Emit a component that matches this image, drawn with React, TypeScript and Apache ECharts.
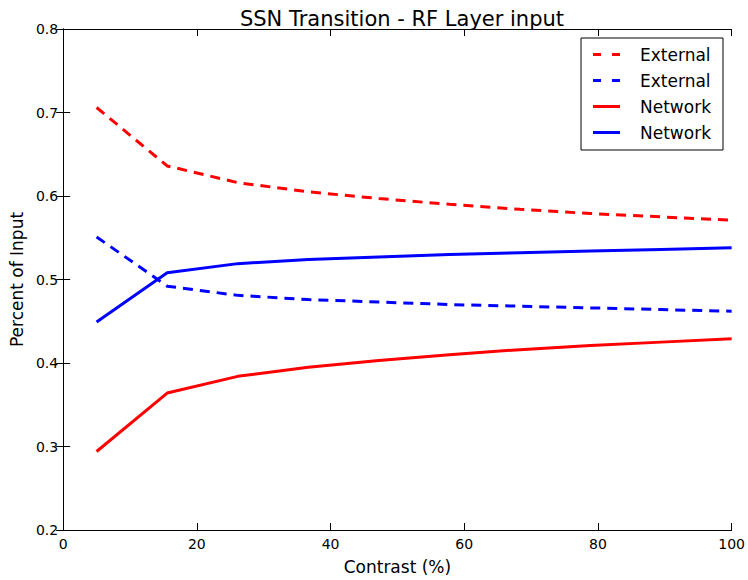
import React, { useEffect, useRef } from "react";
import * as echarts from "echarts";

// Contrast levels (%) at which the input shares were computed
const contrast = [5, 15.56, 26.11, 36.67, 47.22, 57.78, 68.33, 78.89, 89.44, 100];

// Fraction of input coming from outside the network / from recurrent network
const externalRed = [0.706, 0.636, 0.616, 0.605, 0.597, 0.590, 0.584, 0.579, 0.575, 0.571];
const externalBlue = [0.551, 0.492, 0.481, 0.476, 0.473, 0.470, 0.468, 0.466, 0.464, 0.462];
const networkRed = [0.294, 0.364, 0.384, 0.395, 0.403, 0.410, 0.416, 0.421, 0.425, 0.429];
const networkBlue = [0.449, 0.508, 0.519, 0.524, 0.527, 0.530, 0.532, 0.534, 0.536, 0.538];

const xTicks = { min: 0, max: 100, interval: 20 };
const yTicks = { min: 0.2, max: 0.8, interval: 0.1 };

const FONT = "DejaVu Sans";

// Legend keys: two short dashes for dashed series, a bar for solid ones
const DASH_ICON = "path://M0,0h8v3h-8z M19,0h8v3h-8z";
const SOLID_ICON = "rect";

const pair = (ys: number[]) => contrast.map((x, i) => [x, ys[i]]);

export default function App() {
  const ref = useRef<HTMLDivElement>(null);

  useEffect(() => {
    if (!ref.current) return;
    const chart = echarts.init(ref.current, undefined, { renderer: "svg" });

    const axisLine = { show: true, lineStyle: { color: "#000", width: 1 } };
    const axisTick = { show: true, inside: true, length: 7, lineStyle: { color: "#000", width: 1 } };

    const lineSeries = (name: string, ys: number[], color: string, dashed: boolean) => ({
      type: "line",
      name,
      data: pair(ys),
      symbol: "none",
      xAxisIndex: 0,
      yAxisIndex: 0,
      itemStyle: { color },
      lineStyle: { color, width: 3, type: dashed ? [10, 7] : "solid", cap: "butt" },
    });

    chart.setOption({
      animation: false,
      textStyle: { fontFamily: FONT },
      title: {
        text: "SSN Transition - RF Layer input",
        left: 397,
        textAlign: "center",
        top: 3,
        textStyle: { fontFamily: FONT, fontSize: 21, fontWeight: "normal", color: "#000" },
      },
      grid: { left: 62, right: 16, top: 29, bottom: 49, containLabel: false },
      legend: {
        orient: "vertical",
        right: 25,
        top: 38,
        padding: [8, 12, 9, 12],
        itemGap: 9,
        itemWidth: 27,
        itemHeight: 3,
        borderColor: "#000",
        borderWidth: 1,
        backgroundColor: "#fff",
        selectedMode: false,
        formatter: (name: string) => name.split("|")[0],
        textStyle: { fontFamily: FONT, fontSize: 17, color: "#000", padding: [0, 0, 0, 15] },
        data: [
          { name: "External|red", icon: DASH_ICON },
          { name: "External|blue", icon: DASH_ICON },
          { name: "Network|red", icon: SOLID_ICON },
          { name: "Network|blue", icon: SOLID_ICON },
        ],
      },
      xAxis: [
        {
          type: "value",
          position: "bottom",
          ...xTicks,
          axisLine,
          axisTick,
          splitLine: { show: false },
          axisLabel: { fontFamily: FONT, fontSize: 14, color: "#000", margin: 7 },
          name: "Contrast (%)",
          nameLocation: "middle",
          nameGap: 28,
          nameTextStyle: { fontFamily: FONT, fontSize: 17, color: "#000" },
        },
        {
          type: "value",
          position: "top",
          ...xTicks,
          axisLine,
          axisTick,
          splitLine: { show: false },
          axisLabel: { show: false },
        },
      ],
      yAxis: [
        {
          type: "value",
          position: "left",
          ...yTicks,
          axisLine,
          axisTick,
          splitLine: { show: false },
          axisLabel: {
            fontFamily: FONT,
            fontSize: 14,
            color: "#000",
            margin: 5,
            formatter: (v: number) => v.toFixed(1),
          },
          name: "Percent of Input",
          nameLocation: "middle",
          nameGap: 37,
          nameTextStyle: { fontFamily: FONT, fontSize: 17, color: "#000" },
        },
        {
          type: "value",
          position: "right",
          ...yTicks,
          axisLine,
          axisTick,
          splitLine: { show: false },
          axisLabel: { show: false },
        },
      ],
      series: [
        lineSeries("External|red", externalRed, "#ff0000", true),
        lineSeries("External|blue", externalBlue, "#0000ff", true),
        lineSeries("Network|red", networkRed, "#ff0000", false),
        lineSeries("Network|blue", networkBlue, "#0000ff", false),
      ],
    });

    return () => chart.dispose();
  }, []);

  return (
    <div
      ref={ref}
      style={{ position: "fixed", left: 0, top: 0, width: 748, height: 580, background: "#fff" }}
    />
  );
}
